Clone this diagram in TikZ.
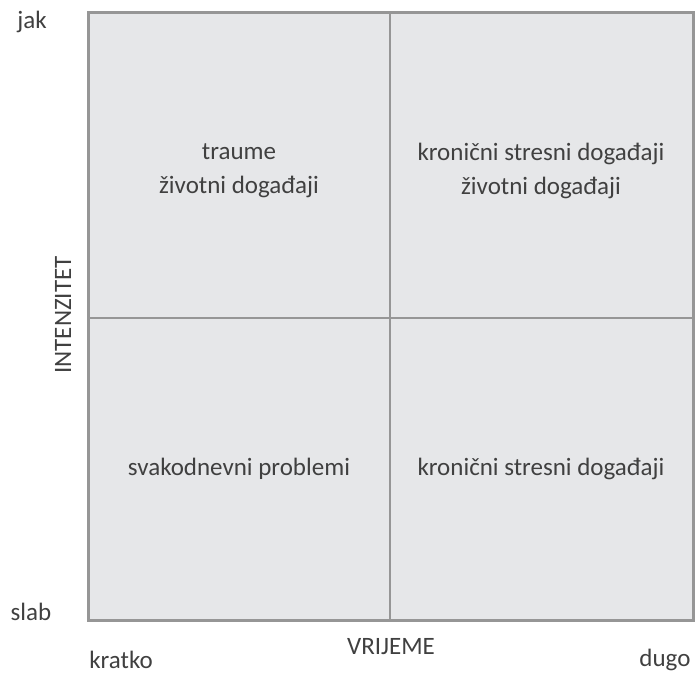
\documentclass[tikz,border=0pt]{standalone}
\usepackage{fontspec}
\setmainfont{Carlito}
\definecolor{quadfill}{RGB}{230,231,233}
\definecolor{quadline}{RGB}{150,150,150}
\definecolor{labeltext}{RGB}{64,64,64}
\tikzset{
  lbl/.style={color=labeltext, font=\fontsize{12.5}{17}\selectfont, inner sep=0pt, align=center},
  quad/.style={fill=quadfill, draw=quadline, line width=1.5pt},
  midline/.style={draw=quadline, line width=1.4pt}
}
\begin{document}
\begin{tikzpicture}[x=0.5pt,y=0.5pt,yscale=-1,xscale=1]
        \path[use as bounding box] (0,0) rectangle (696,674);

        % Quadrants
        \draw[quad] (88,13) rectangle (693,620);
        \draw[midline] (390,13) -- (390,620);
        \draw[midline] (88,318) -- (693,318);

        % Text Node
        \node[lbl] (traume) at (239,171) {traume\\životni događaji};
        % Text Node
        \node[lbl] (kronzivot) at (541,171) {kronični stresni događaji\\životni događaji};
        % Text Node
        \node[lbl] (svakodnevni) at (239,469) {svakodnevni problemi};
        % Text Node
        \node[lbl] (kronicni) at (541,469) {kronični stresni događaji};

        % Axis labels
        \node[lbl] (jak) at (32,22) {jak};
        \node[lbl] (slab) at (31,612) {slab};
        \node[lbl, rotate=90] (intenzitet) at (63,315) {INTENZITET};
        \node[lbl] (vrijeme) at (391,647) {VRIJEME};
        \node[lbl] (kratko) at (121,660) {kratko};
        \node[lbl] (dugo) at (665,660) {dugo};
\end{tikzpicture}
\end{document}
